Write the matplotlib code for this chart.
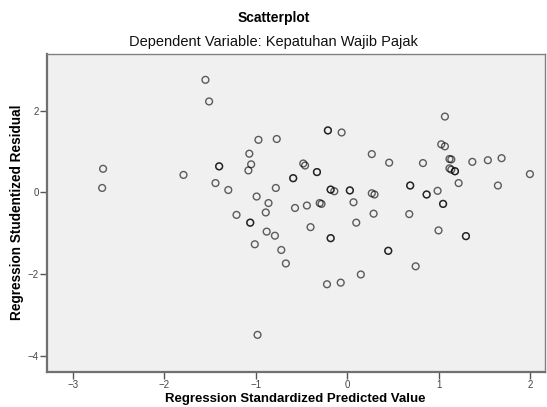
import numpy as np
import matplotlib.pyplot as plt

plt.rcParams['font.family'] = ['Liberation Sans', 'DejaVu Sans']

# regression standardized predicted value (x) and studentized residual (y)
pred = [-1.55, -1.51, -2.67, -2.68, -1.79, -1.40, -1.40, -1.44, -1.30,
        -0.21, -0.21, -0.06, -0.97, -0.77, -1.07, -1.05, -1.08, -0.48,
        -0.46, -0.33, -0.33, -0.59, -0.59, 0.27, -0.78, -0.99, -0.86,
        -0.18, -0.18, -0.14, 0.03, 0.03, 0.27, 0.30, 0.07, -0.30, -0.28,
        -0.44, -0.57, -1.21, -1.06, -1.06, -0.89, 0.29, -0.88, -0.79,
        -1.01, -0.40, 0.10, -0.18, -0.18, -0.72, -0.67, -0.22, -0.07,
        0.15, -0.98, 1.07, 1.03, 1.07, 1.12, 1.14, 1.12, 1.14, 1.18, 1.18,
        0.46, 0.83, 1.37, 1.54, 1.69, 2.00, 1.22, 1.65, 0.69, 0.69, 0.99,
        0.87, 0.87, 1.05, 1.05, 0.68, 1.00, 1.30, 1.30, 0.45, 0.45, 0.75]
resid = [2.76, 2.23, 0.58, 0.11, 0.43, 0.64, 0.64, 0.23, 0.06,
         1.52, 1.52, 1.47, 1.29, 1.31, 0.95, 0.69, 0.54, 0.71,
         0.66, 0.50, 0.50, 0.35, 0.35, 0.94, 0.11, -0.10, -0.26,
         0.07, 0.07, 0.03, 0.05, 0.05, -0.02, -0.05, -0.24, -0.26, -0.28,
         -0.32, -0.38, -0.55, -0.74, -0.74, -0.49, -0.52, -0.96, -1.06,
         -1.27, -0.85, -0.74, -1.12, -1.12, -1.41, -1.74, -2.25, -2.21,
         -2.01, -3.49, 1.86, 1.18, 1.13, 0.82, 0.81, 0.59, 0.56, 0.52, 0.52,
         0.73, 0.72, 0.75, 0.79, 0.84, 0.45, 0.23, 0.17, 0.17, 0.17, 0.04,
         -0.05, -0.05, -0.28, -0.28, -0.53, -0.93, -1.07, -1.07, -1.43, -1.43, -1.81]

xticks = [-3, -2, -1, 0, 1, 2]
yticks = [-4, -2, 0, 2]

fig = plt.figure(figsize=(5.47, 4.07), dpi=100)
ax = fig.add_axes([0.0865, 0.087, 0.909, 0.78])
ax.set_facecolor('#f0f0f0')

ax.scatter(pred, resid, s=24, facecolors='none',
           edgecolors=(0, 0, 0, 0.62), linewidths=1.0, zorder=3)

ax.set_xlim(-3.28, 2.16)
ax.set_ylim(-4.39, 3.39)
ax.set_xticks(xticks)
ax.set_yticks(yticks)
ax.tick_params(axis='both', direction='out', length=5, width=1,
               color='#555555', labelsize=7, labelcolor='#444444', pad=1)

for side in ['left', 'bottom']:
    ax.spines[side].set_color('#707070')
    ax.spines[side].set_linewidth(1.6)
for side in ['top', 'right']:
    ax.spines[side].set_color('#808080')
    ax.spines[side].set_linewidth(1.0)

# axis titles placed as figure text, like the SPSS layout
fig.text(295 / 547, 1 - 399 / 407, 'Regression Standardized Predicted Value',
         ha='center', va='center', fontsize=9.5, fontweight='bold')
fig.text(17 / 547, 1 - 212 / 407, 'Regression Studentized Residual',
         ha='center', va='center', rotation=90, fontsize=9.8, fontweight='bold')

fig.text(0.5, 0.955, 'Scatterplot', ha='center', va='center',
         fontsize=10, fontweight='bold')
fig.text(0.5, 0.898, 'Dependent Variable: Kepatuhan Wajib Pajak',
         ha='center', va='center', fontsize=10.5, color='#111111')

fig.savefig('out.png', dpi=100)
